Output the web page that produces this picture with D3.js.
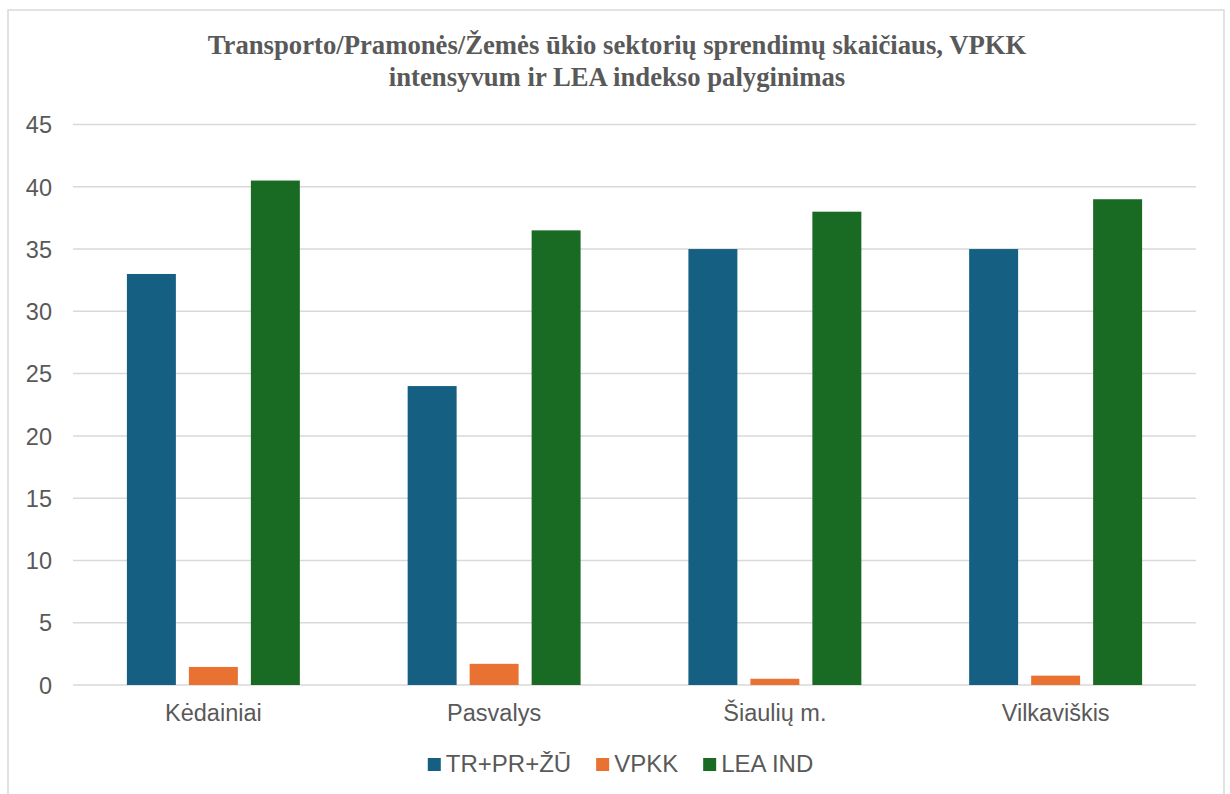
<!DOCTYPE html>
<html>
<head>
<meta charset="utf-8">
<script src="https://cdn.jsdelivr.net/npm/d3@7"></script>
<style>
  body { margin: 0; background: #fff; }
  text { font-family: "Liberation Sans", Arial, sans-serif; fill: #595959; }
  .title { font-family: "Liberation Serif", "Times New Roman", serif; font-weight: bold; font-size: 26.7px; }
</style>
</head>
<body>
<div id="chart"></div>
<script>
const categories = ["Kėdainiai", "Pasvalys", "Šiaulių m.", "Vilkaviškis"];
const series = ["TR+PR+ŽŪ", "VPKK", "LEA IND"];
const tr_values = [33, 24, 35, 35];
const vpkk_values = [1.45, 1.7, 0.5, 0.75];
const lea_values = [40.5, 36.5, 38, 39];
const y_ticks = [0, 5, 10, 15, 20, 25, 30, 35, 40, 45];
const colors = ["#156082", "#E97132", "#196B24"];
const title_lines = ["Transporto/Pramonės/Žemės ūkio sektorių sprendimų skaičiaus, VPKK",
                     "intensyvum ir LEA indekso palyginimas"];

const width = 1230;
const height = 794;
const plot_left = 73, plot_right = 1196, plot_top = 124.5, plot_bottom = 685;

const values_by_series = [tr_values, vpkk_values, lea_values];

const svg = d3.select("#chart")
   .append("svg")
   .attr("width", width)
   .attr("height", height);

// outer frame
svg.append("rect")
   .attr("x", 8)
   .attr("y", 10)
   .attr("width", 1216)
   .attr("height", 800)
   .attr("fill", "none")
   .attr("stroke", "#d9d9d9")
   .attr("stroke-width", 1.5);

// title
svg.append("text")
   .attr("class", "title")
   .attr("text-anchor", "middle")
   .selectAll("tspan")
   .data(title_lines)
   .enter().append("tspan")
   .attr("x", 617)
   .attr("y", (d, i) => 54 + i * 32)
   .text(d => d);

var y = d3.scaleLinear()
   .domain([0, 45])
   .range([plot_bottom, plot_top]);

var x0 = d3.scaleBand()
   .domain(categories)
   .range([plot_left, plot_right])
   .paddingInner(0.384)
   .paddingOuter(0.192);

var x1 = d3.scaleBand()
   .domain(series)
   .range([0, x0.bandwidth()])
   .paddingInner(0.21)
   .paddingOuter(0);

// gridlines
svg.append("g")
   .selectAll("line")
   .data(y_ticks)
   .enter().append("line")
   .attr("x1", plot_left)
   .attr("x2", plot_right)
   .attr("y1", d => y(d))
   .attr("y2", d => y(d))
   .attr("stroke", "#d9d9d9")
   .attr("stroke-width", 1.5);

// y labels
const yAxis = svg.append("g")
   .attr("transform", "translate(52,0)")
   .call(d3.axisLeft(y).tickValues(y_ticks).tickSize(0).tickPadding(0));
yAxis.select(".domain").remove();
yAxis.selectAll("text")
   .attr("fill", "#595959")
   .style("font-size", "23.5px")
   .style("font-family", "'Liberation Sans', Arial, sans-serif")
   .attr("text-anchor", "end")
   .attr("dy", "0.35em");

// bars
const groups = svg.append("g")
   .selectAll("g")
   .data(categories)
   .enter().append("g")
   .attr("transform", d => "translate(" + x0(d) + ",0)");

groups.selectAll("rect")
   .data((d, ci) => series.map((s, si) => ({s: s, si: si, v: values_by_series[si][ci]})))
   .enter().append("rect")
   .attr("x", d => x1(d.s))
   .attr("y", d => y(d.v))
   .attr("width", x1.bandwidth())
   .attr("height", d => y(0) - y(d.v))
   .attr("fill", d => colors[d.si]);

// x labels
const xAxis = svg.append("g")
   .attr("transform", "translate(0,700)")
   .call(d3.axisBottom(x0).tickSize(0).tickPadding(0));
xAxis.select(".domain").remove();
xAxis.selectAll("text")
   .attr("fill", "#595959")
   .style("font-size", "23.5px")
   .style("font-family", "'Liberation Sans', Arial, sans-serif")
   .attr("y", 21)
   .attr("dy", 0);

// legend
const legend = svg.append("g");
const items = legend.selectAll("g")
   .data(series)
   .enter().append("g");
items.append("rect")
   .attr("width", 13)
   .attr("height", 13)
   .attr("y", 758)
   .attr("fill", (d, i) => colors[i]);
items.append("text")
   .attr("x", 18)
   .attr("y", 772)
   .style("font-size", "24px")
   .text(d => d);

var offsets = [];
var pos = 0;
items.each(function(d) {
   offsets.push(pos);
   pos += 18 + this.querySelector("text").getComputedTextLength() + 25;
});
const legend_width = pos - 25;
const legend_start = 620.5 - legend_width / 2;
items.attr("transform", (d, i) => "translate(" + (legend_start + offsets[i]) + ",0)");
</script>
</body>
</html>
